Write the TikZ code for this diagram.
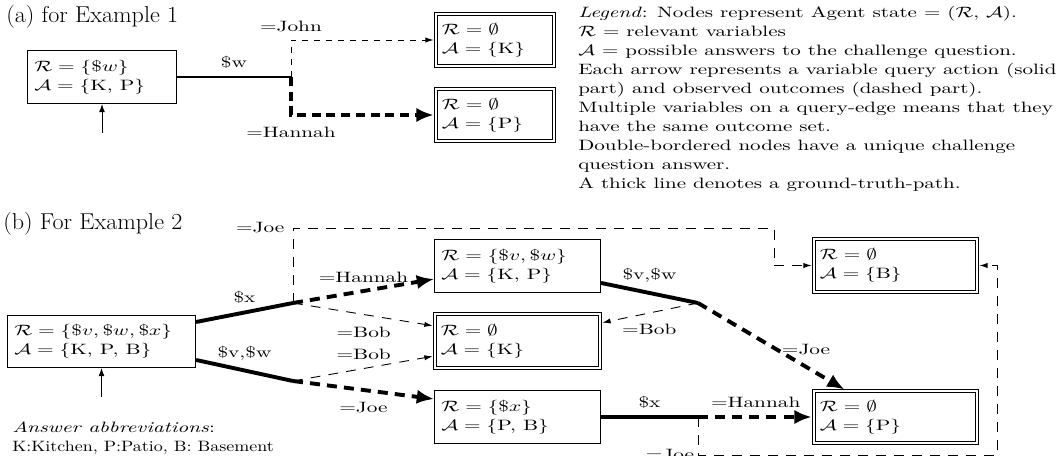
\documentclass[tikz,border=0pt]{standalone}
\usepackage{graphicx}
\usetikzlibrary{arrows.meta}
\newcommand{\sx}[1]{\scalebox{1.42}[1]{#1}}
\newcommand{\twolines}[2]{\sx{\begin{tabular}{@{}l@{}}#1\\#2\end{tabular}}}
\newcommand{\fsn}{\fontsize{10}{12.67}\selectfont}
\newcommand{\fcap}{\fontsize{15.3}{18}\selectfont}
\begin{document}
\begin{tikzpicture}[x=0.6667pt, y=-0.6667pt,
  bx/.style={draw, line width=0.7pt, inner xsep=4.5pt, inner ysep=0pt, align=left, font=\fsn},
  dbx/.style={draw, line width=0.5pt, double, double distance=1.4pt, inner xsep=4pt, inner ysep=0pt, align=left, font=\fsn},
  lbl/.style={inner sep=1pt, font=\fsn},
  capnode/.style={anchor=base west, inner sep=0pt, font=\fcap},
  qa/.style={line width=1.8pt},
  qb/.style={line width=2.6pt},
  oa/.style={line width=2.6pt, dash pattern=on 6pt off 3.8pt, -{Latex[length=11.5pt,width=9.5pt]}},
  ob/.style={line width=2.6pt, dash pattern=on 6.7pt off 4.7pt, -{Latex[length=11.5pt,width=9.5pt]}},
  ta/.style={line width=0.6pt, dash pattern=on 4.3pt off 3.7pt, -{Latex[length=5.5pt,width=3.5pt]}},
  tb/.style={line width=0.6pt, dash pattern=on 6.5pt off 5.5pt, -{Latex[length=5.5pt,width=3.5pt]}},
  up/.style={line width=0.6pt, -{Latex[length=5.5pt,width=4pt]}},
]
\useasboundingbox (0,0) rectangle (1061,456);

% ---------- (a) ----------
\node[capnode] (capa) at (6,22.5) {\scalebox{1.05}[1]{(a) for Example 1}};
\node[bx, text width=90.3pt, minimum height=35.3pt] (a0) at (102,77)
  {\twolines{$\mathcal{R}=\{\$w\}$}{$\mathcal{A}=\{$K, P$\}$}};
\node[dbx, text width=70.9pt, minimum height=34.9pt] (a1) at (495,40)
  {\twolines{$\mathcal{R}=\emptyset$}{$\mathcal{A}=\{$K$\}$}};
\node[dbx, text width=70.9pt, minimum height=34.9pt] (a2) at (495,115)
  {\twolines{$\mathcal{R}=\emptyset$}{$\mathcal{A}=\{$P$\}$}};
\coordinate (ja) at (291,77);
\coordinate (sa) at (102,133);

\draw[up] (sa) -- (a0.south);
\draw[qa] (a0.east) -- node[lbl, yshift=10pt]{\sx{\$w}} (ja);
\draw[ta, shorten >=1.2pt] (ja) |- node[lbl, pos=0.5, yshift=9.3pt]{\sx{=John}} (a1.west);
\draw[oa, shorten >=1.2pt] (ja) |- node[lbl, pos=0.5, yshift=-11.3pt]{\sx{=Hannah}} (a2.west);

% ---------- legend ----------
\node[anchor=north west, inner sep=0pt, font=\fsn] (leg) at (578,4) {\scalebox{1.40}[1]{\begin{tabular}{@{}l@{}}
\textit{Legend}: Nodes represent Agent state $=$ ($\mathcal{R}$, $\mathcal{A}$).\\
$\mathcal{R}$ $=$ relevant variables\\
$\mathcal{A}$ $=$ possible answers to the challenge question.\\
Each arrow represents a variable query action (solid\\
part) and observed outcomes (dashed part).\\
Multiple variables on a query-edge means that they\\
have the same outcome set.\\
Double-bordered nodes have a unique challenge\\
question answer.\\
A thick line denotes a ground-truth-path.
\end{tabular}}};

% ---------- (b) ----------
\node[capnode] (capb) at (3,229) {\scalebox{1.05}[1]{(b) For Example 2}};
\node[bx, text width=116.3pt, minimum height=34.6pt] (b0) at (101.5,341.5)
  {\twolines{$\mathcal{R}=\{\$v,\$w,\$x\}$}{$\mathcal{A}=\{$K, P, B$\}$}};
\node[bx, text width=101.6pt, minimum height=35.3pt] (b1) at (517.5,266)
  {\twolines{$\mathcal{R}=\{\$v,\$w\}$}{$\mathcal{A}=\{$K, P$\}$}};
\node[dbx, text width=102.3pt, minimum height=36.3pt] (b2) at (517.5,341)
  {\twolines{$\mathcal{R}=\emptyset$}{$\mathcal{A}=\{$K$\}$}};
\node[bx, text width=101.6pt, minimum height=35.3pt] (b3) at (517.5,417)
  {\twolines{$\mathcal{R}=\{\$x\}$}{$\mathcal{A}=\{$P, B$\}$}};
\node[dbx, text width=100.9pt, minimum height=35.6pt] (b5) at (895.5,265.5)
  {\twolines{$\mathcal{R}=\emptyset$}{$\mathcal{A}=\{$B$\}$}};
\node[dbx, text width=100.9pt, minimum height=34.9pt] (b4) at (895.5,417)
  {\twolines{$\mathcal{R}=\emptyset$}{$\mathcal{A}=\{$P$\}$}};
\node[anchor=north west, inner sep=0pt, font=\fsn] (ans) at (12,419) {\begin{tabular}{@{}l@{}}
\sx{\textit{Answer abbreviations}:}\\
\scalebox{1.2}[1]{K:Kitchen, P:Patio, B: Basement}
\end{tabular}};

\coordinate (j1) at (293,303);
\coordinate (j2) at (293,381);
\coordinate (j3) at (698,303);
\coordinate (j4) at (698,417);
\coordinate (c1) at (774,228);
\coordinate (c2) at (997,455);
\coordinate (sb) at (101.5,397);

\draw[up] (sb) -- (b0.south);
\draw[qb] ([yshift=13pt]b0.east) -- node[lbl, yshift=10.3pt]{\sx{\$x}} (j1);
\draw[qb] ([yshift=-12.3pt]b0.east) -- node[lbl, yshift=11.7pt]{\sx{\$v,\$w}} (j2);
\draw[ob] (j1) -- node[lbl, yshift=9.3pt]{\sx{=Hannah}} ([yshift=-8.7pt]b1.west);
\draw[tb, shorten >=1.2pt] (j1) -- node[lbl, yshift=-11.7pt]{\sx{=Bob}} ([yshift=10pt]b2.west);
\draw[tb, shorten >=1.2pt] (j1) |- node[lbl, pos=0.5, anchor=east, xshift=-4.5pt]{\sx{=Joe}} (c1) |- (b5.west);
\draw[tb, shorten >=1.2pt] (j2) -- node[lbl, yshift=9.7pt]{\sx{=Bob}} ([yshift=-10pt]b2.west);
\draw[ob] (j2) -- node[lbl, yshift=-12pt]{\sx{=Joe}} ([yshift=12pt]b3.west);
\draw[qb] ([yshift=-11.3pt]b1.east) -- node[lbl, yshift=12pt]{\sx{\$v,\$w}} (j3);
\draw[tb, shorten >=1.2pt] (j3) -- node[lbl, yshift=-10.7pt]{\sx{=Bob}} ([yshift=12pt]b2.east);
\draw[ob, shorten >=1.2pt] (j3) -- node[lbl, xshift=22.7pt, yshift=-1.7pt]{\sx{=Joe}} ([xshift=-33pt]b4.north);
\draw[qb] (b3.east) -- node[lbl, yshift=10pt]{\sx{\$x}} (j4);
\draw[ob, shorten >=1.2pt] (j4) -- node[lbl, yshift=10pt]{\sx{=Hannah}} (b4.west);
\draw[tb, shorten >=1.2pt] (j4) |- node[lbl, pos=0.5, anchor=east, xshift=-1.3pt]{\sx{=Joe}} (c2) |- (b5.east);
\end{tikzpicture}
\end{document}
